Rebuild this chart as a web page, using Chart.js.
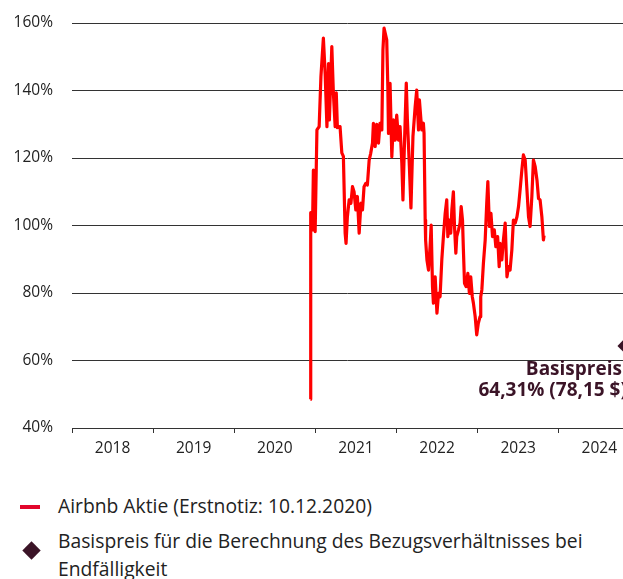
<!DOCTYPE html>
<html>
<head>
<meta charset="utf-8">
<script src="https://cdn.jsdelivr.net/npm/chart.js@4/dist/chart.umd.min.js"></script>
<style>
html,body{margin:0;padding:0;background:#fff;}
body{width:623px;height:579px;overflow:hidden;position:relative;font-family:'Open Sans',sans-serif;color:#222;}
#wrap{position:absolute;left:0;top:0;width:623px;height:470px;}
.lg{position:absolute;left:58px;font-size:19.3px;line-height:28px;color:#222;white-space:nowrap;}
#m1{position:absolute;left:20px;top:505px;width:20px;height:4px;background:#e2062c;}
#m2{position:absolute;left:25px;top:544px;width:13px;height:13px;background:#3b1427;transform:rotate(45deg);}
</style>
</head>
<body>
<div id="wrap"><canvas id="c"></canvas></div>
<div id="m1"></div>
<div class="lg" id="t1" style="top:491.5px;">Airbnb Aktie (Erstnotiz: 10.12.2020)</div>
<div id="m2"></div>
<div class="lg" id="t2" style="top:526.5px;">Basispreis für die Berechnung des Bezugsverhältnisses bei<br>Endfälligkeit</div>
<script>
// ---- data ----
const stockDates = [
"2020-12-10","2020-12-11","2020-12-19","2020-12-23","2020-12-31",
"2021-01-08","2021-01-18","2021-01-26","2021-02-06","2021-02-14","2021-02-22","2021-03-01","2021-03-05",
"2021-03-16","2021-03-23","2021-03-31","2021-04-05","2021-04-10","2021-04-22","2021-04-30","2021-05-07",
"2021-05-15","2021-05-19","2021-05-25","2021-06-02","2021-06-10","2021-06-17","2021-06-24","2021-07-02",
"2021-07-09","2021-07-17","2021-07-25","2021-08-01","2021-08-08","2021-08-16","2021-08-23","2021-08-31",
"2021-09-07","2021-09-15","2021-09-19","2021-09-27","2021-10-04","2021-10-12","2021-10-19","2021-10-27",
"2021-11-01","2021-11-06","2021-11-10","2021-11-18","2021-11-23","2021-11-26","2021-12-03","2021-12-11",
"2021-12-18","2021-12-26","2022-01-02","2022-01-10","2022-01-17","2022-01-25","2022-01-30","2022-02-05",
"2022-02-14","2022-02-19","2022-02-28","2022-03-07","2022-03-16","2022-03-26","2022-04-02","2022-04-10",
"2022-04-14","2022-04-21","2022-04-25","2022-05-02","2022-05-05","2022-05-10","2022-05-12","2022-05-18",
"2022-05-25","2022-06-01","2022-06-06","2022-06-12","2022-06-16","2022-06-24","2022-07-02","2022-07-09",
"2022-07-16","2022-07-24","2022-07-31","2022-08-08","2022-08-15","2022-08-20","2022-08-27","2022-09-02",
"2022-09-07","2022-09-14","2022-09-19","2022-09-25","2022-09-29","2022-10-07","2022-10-14","2022-10-19",
"2022-10-25","2022-10-29","2022-11-03","2022-11-10","2022-11-18","2022-11-25","2022-12-01","2022-12-08",
"2022-12-13","2022-12-21","2022-12-28","2023-01-04","2023-01-12","2023-01-15","2023-01-20","2023-01-27",
"2023-02-04","2023-02-11","2023-02-16","2023-02-23","2023-03-02","2023-03-09","2023-03-17","2023-03-24",
"2023-04-01","2023-04-08","2023-04-12","2023-04-20","2023-04-27","2023-05-05","2023-05-13","2023-05-20",
"2023-05-27","2023-06-04","2023-06-11","2023-06-19","2023-06-27","2023-07-04","2023-07-11","2023-07-19",
"2023-07-26","2023-08-03","2023-08-11","2023-08-18","2023-08-25","2023-09-02","2023-09-09","2023-09-17",
"2023-09-25","2023-10-02","2023-10-09","2023-10-17","2023-10-24","2023-10-27"
];
const stockValues = [
48.5,103.8,98.7,116.4,98.2,
128.3,129.3,144.1,155.5,145,129.3,148,131.3,
153,139.3,129.3,139.3,129,129.3,121.5,120.5,
97.7,94.7,102.6,107.6,106.6,111.5,110,104.6,
108.6,97.7,106.6,104.6,111.5,112.5,112,119.4,
121.4,124.4,130.3,123.4,130,124.4,130.3,128.3,
152,158.5,158.5,155,141.1,127.3,142.1,120.4,
131.3,125.3,132.7,125.3,129.3,118.5,107.6,122.4,
142.2,131.3,117.4,105.2,126.3,135.2,140.1,128.3,
137.2,131.3,128.3,130.3,127.4,101.6,95.7,89.8,
86.8,93.7,100.1,81.9,77,84.8,74,79.9,
78.9,90,96.7,103.6,107.6,96.7,101.6,97.7,
104.6,110,99.7,91.8,96.7,98.7,100.7,105.6,
101.6,92.8,82.9,81.9,85.8,79.9,84.8,78.9,
77,73,67.6,71,73,78.9,80.9,88.8,
95.7,106.6,113,99.7,103.6,96.7,98.7,93.7,
96.7,87.8,94.7,89.8,95.7,100.7,84.8,87.8,
86.8,92.8,101.6,100.7,102.6,105.6,110.5,116.4,
120.9,119.4,110.5,102.6,99.7,108.6,119.4,117.4,
113.5,108,107.6,102.6,95.7,97
];
const basisDate = "2024-10-21";
const basisValue = 64.31;
const basisLabel = ["Basispreis", "64,31% (78,15 $)"];
const yearLabels = ["2018","2019","2020","2021","2022","2023","2024"];
const yTicks = [40,60,80,100,120,140,160];

// ---- helpers ----
function toYear(s){
  const d = new Date(s + "T00:00:00Z");
  const y = d.getUTCFullYear();
  const a = Date.UTC(y,0,1), b = Date.UTC(y+1,0,1);
  return y + (d.getTime() - a) / (b - a);
}
const stockData = stockDates.map((d,i)=>({x: toYear(d), y: stockValues[i]}));
const basisData = [{x: toYear(basisDate), y: basisValue}];
const firstYear = +yearLabels[0];
const lastYear = +yearLabels[yearLabels.length-1];
const FONT = "'Open Sans', sans-serif";

const annotPlugin = {
  id: 'annot',
  afterDatasetsDraw(chart){
    const ctx = chart.ctx;
    const xs = chart.scales.x, ys = chart.scales.y;
    const px = xs.getPixelForValue(basisData[0].x);
    const py = ys.getPixelForValue(basisData[0].y);
    ctx.save();
    ctx.fillStyle = '#3b1427';
    ctx.font = "bold 19px " + FONT;
    ctx.textAlign = 'right';
    ctx.textBaseline = 'middle';
    ctx.fillText(basisLabel[0], px - 2, py + 23.5);
    ctx.fillText(basisLabel[1], px + 3, py + 45);
    ctx.restore();
  }
};

new Chart(document.getElementById('c'), {
  type: 'line',
  data: {
    datasets: [
      {
        label: 'Airbnb Aktie',
        data: stockData,
        borderColor: '#ff0000',
        borderWidth: 3.2,
        pointRadius: 0,
        tension: 0,
        borderJoinStyle: 'round',
        fill: false
      },
      {
        label: 'Basispreis',
        data: basisData,
        showLine: false,
        pointStyle: 'rectRot',
        pointRadius: 6.5,
        pointBackgroundColor: '#3b1427',
        pointBorderWidth: 0,
        clip: false
      }
    ]
  },
  options: {
    responsive: true,
    maintainAspectRatio: false,
    animation: false,
    layout: { autoPadding: false, padding: { top: 23, right: 0, left: 0, bottom: 0 } },
    plugins: { legend: { display: false }, tooltip: { enabled: false } },
    scales: {
      x: {
        type: 'linear',
        min: firstYear,
        max: 2024.792,
        afterBuildTicks(scale){
          const t = [];
          for (let y = firstYear; y <= lastYear; y++){ t.push({value: y}); t.push({value: y + 0.5}); }
          scale.ticks = t;
        },
        afterFit(scale){ scale.height = 42; scale.paddingLeft = 0; scale.paddingRight = 0; },
        ticks: {
          autoSkip: false,
          maxRotation: 0,
          padding: 6,
          color: '#222',
          font: { family: FONT, size: 15.5 },
          callback(v){ return (Math.abs(v % 1 - 0.5) < 1e-6) ? String(Math.floor(v)) : ''; }
        },
        grid: {
          drawOnChartArea: false,
          drawTicks: true,
          tickLength: 5,
          tickColor(ctx){ return (ctx.tick && Math.abs(ctx.tick.value % 1) < 1e-6) ? '#333' : 'rgba(0,0,0,0)'; }
        },
        border: { display: true, color: '#333', width: 1 }
      },
      y: {
        min: 40,
        max: 160,
        afterBuildTicks(scale){ scale.ticks = yTicks.map(v=>({value:v})); },
        afterFit(scale){ scale.width = 72; scale.paddingTop = 0; scale.paddingBottom = 0; },
        ticks: {
          padding: 19,
          color: '#222',
          font: { family: FONT, size: 15.5 },
          callback(v){ return v + '%'; }
        },
        grid: { color: '#333', lineWidth: 1, drawTicks: false },
        border: { display: false }
      }
    }
  },
  plugins: [annotPlugin]
});
</script>
</body>
</html>
